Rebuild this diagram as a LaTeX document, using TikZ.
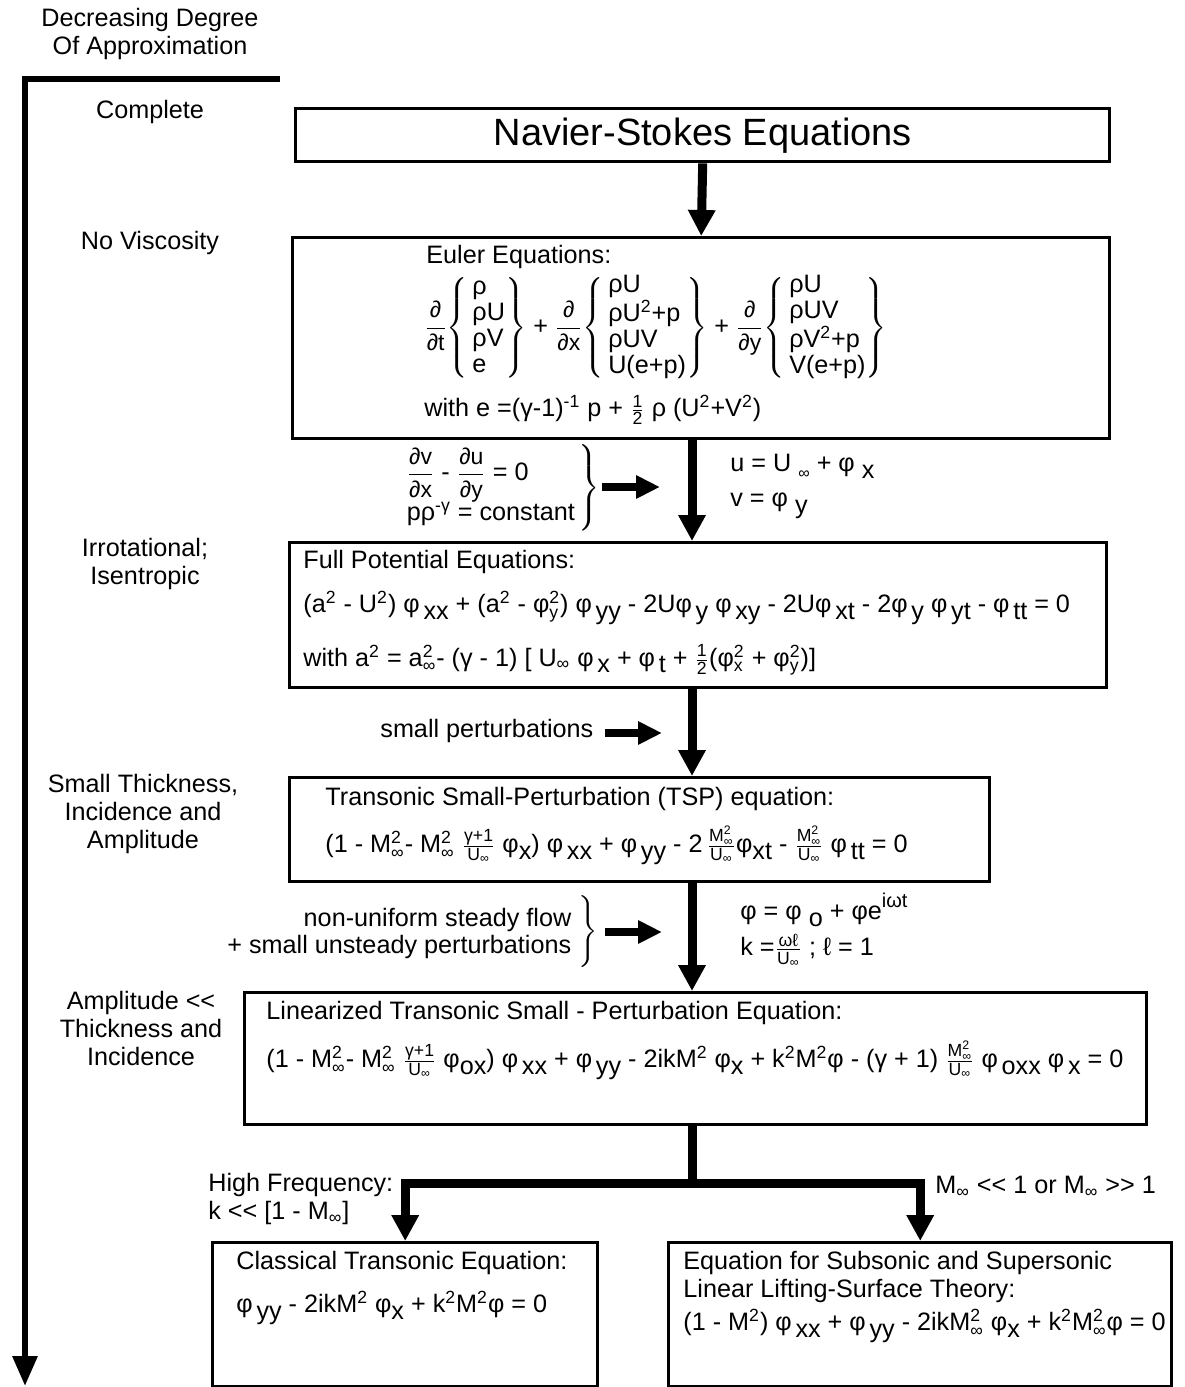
\documentclass[tikz,border=0pt]{standalone}
\usepackage{amsmath}
\usepackage{fontspec}
\setmainfont{Liberation Sans}
\usetikzlibrary{arrows.meta}

\newcommand{\sps}[1]{\ensuremath{^{\text{#1}}}}
\newcommand{\sbs}[1]{\ensuremath{_{\text{#1}}}}
\newcommand{\sbp}[2]{\ensuremath{^{\text{#1}}_{\text{#2}}}}
\newcommand{\dn}[1]{\raisebox{-0.5ex}{#1}}
\newcommand{\lo}[1]{\hspace{0.15em}\dn{#1}}
\newcommand{\sfr}[2]{\ensuremath{\frac{\text{#1}}{\text{#2}}}}
\newcommand{\fracfont}{\fontsize{11.5}{12}\selectfont}
\newcommand{\dfr}[2]{\ensuremath{\dfrac{\text{\fracfont #1}}{\text{\fracfont #2}}}}
\newcommand{\vect}[1]{\ensuremath{\left\{\begin{tabular}{@{\,}l@{}}#1\end{tabular}\right\}}}
\newcommand{\muchless}{<\kern0pt<}
\newcommand{\muchmore}{>\kern0pt>}
\renewcommand{\arraystretch}{0.93}

\begin{document}
\begin{tikzpicture}[x=0.5pt, y=-0.5pt,
        eqbox/.style={draw, line width=1.7pt, anchor=north west, inner sep=0pt},
        lbl/.style={anchor=west, inner sep=0pt, font=\fontsize{12.6}{14}\selectfont},
        level/.style={align=center, inner sep=0pt, font=\fontsize{12.6}{14}\selectfont},
        bigarrow/.style={line width=4.5pt, line join=miter, -{Triangle[width=13pt,length=13pt]}},
        fatarrow/.style={line width=4pt, -{Triangle[width=11pt,length=12pt]}},
        axisline/.style={line width=3pt, line join=miter, -{Triangle[width=12pt,length=15pt]}},
    ]
    \useasboundingbox (0,0) rectangle (1184,1387);

    %% Degree of approximation axis
    \node[level] (degree) at (150,34) {Decreasing Degree\\Of Approximation};
    \coordinate (axtop) at (280,79);
    \coordinate (axcorner) at (25,79);
    \coordinate (axend) at (25,1386);
    \draw[axisline] (axtop) -- (axcorner) -- (axend);

    \node[level] (complete) at (150,112) {Complete};
    \node[level] (novisc) at (150,243) {No Viscosity};
    \node[level] (irrotational) at (145,564) {Irrotational;\\Isentropic};
    \node[level] (smallthick) at (143,814) {Small Thickness,\\Incidence and\\Amplitude};
    \node[level] (amplitude) at (141,1028) {Amplitude \muchless\\Thickness and\\Incidence};

    %% Boxes
    \node[eqbox, minimum width=407pt, minimum height=26.5pt] (ns) at (294,107) {};
    \node[font=\fontsize{19}{21}\selectfont, inner sep=0pt] (nstitle) at (ns.center) {Navier-Stokes Equations};

    \node[eqbox, minimum width=408.5pt, minimum height=100.5pt] (euler) at (291,236) {};
    \node[lbl] (eulertitle) at (426,257) {Euler Equations:};
    \node[lbl] (eulereq) at (424,328) {\dfr{∂}{∂t}\vect{ρ\\ρU\\ρV\\e} + \dfr{∂}{∂x}\vect{ρU\\ρU\sps{2}+p\\ρUV\\U(e+p)} + \dfr{∂}{∂y}\vect{ρU\\ρUV\\ρV\sps{2}+p\\V(e+p)}};
    \node[lbl] (eulerwith) at (424,410) {with e =(γ-1)\sps{-1} p + \sfr{1}{2} ρ (U\sps{2}+V\sps{2})};

    \node[eqbox, minimum width=408.5pt, minimum height=72.5pt] (fp) at (288,541) {};
    \node[lbl] (fptitle) at (303,562) {Full Potential Equations:};
    \node[lbl] (fpeq) at (303,608) {(a\sps{2} - U\sps{2}) φ\lo{xx} + (a\sps{2} - φ\sbp{2}{y}) φ\lo{yy} - 2Uφ\lo{y} φ\lo{xy} - 2Uφ\lo{xt} - 2φ\lo{y} φ\lo{yt} - φ\lo{tt} = 0};
    \node[lbl] (fpwith) at (303,660) {with a\sps{2} = a\sbp{2}{∞}- (γ - 1) [ U\sbs{∞} φ\lo{x} + φ\lo{t} + \sfr{1}{2}(φ\sbp{2}{x} + φ\sbp{2}{y})]};

    \node[eqbox, minimum width=350pt, minimum height=52pt] (tsp) at (288,776) {};
    \node[lbl] (tsptitle) at (325,799) {Transonic Small-Perturbation (TSP) equation:};
    \node[lbl] (tspeq) at (325,845) {(1 - M\sbp{2}{∞}- M\sbp{2}{∞} \sfr{γ+1}{U\sbs{∞}} φ\dn{x}) φ\lo{xx} + φ\lo{yy} - 2\,\sfr{M\sbp{2}{∞}}{U\sbs{∞}}φ\dn{xt} - \sfr{M\sbp{2}{∞}}{U\sbs{∞}} φ\lo{tt} = 0};

    \node[eqbox, minimum width=451pt, minimum height=66pt] (lin) at (243,991) {};
    \node[lbl] (lintitle) at (266,1013) {Linearized Transonic Small - Perturbation Equation:};
    \node[lbl] (lineq) at (266,1060) {(1 - M\sbp{2}{∞}- M\sbp{2}{∞} \sfr{γ+1}{U\sbs{∞}} φ\dn{ox}) φ\lo{xx} + φ\lo{yy} - 2ikM\sps{2} φ\dn{x} + k\sps{2}M\sps{2}φ - (γ + 1) \sfr{M\sbp{2}{∞}}{U\sbs{∞}} φ\lo{oxx} φ\lo{x} = 0};

    \node[eqbox, minimum width=192.5pt, minimum height=72pt] (clas) at (211,1241) {};
    \node[lbl] (clastitle) at (236,1263) {Classical Transonic Equation:};
    \node[lbl] (claseq) at (236,1308) {φ\lo{yy} - 2ikM\sps{2} φ\dn{x} + k\sps{2}M\sps{2}φ = 0};

    \node[eqbox, minimum width=251.5pt, minimum height=72pt] (sub) at (667,1241) {};
    \node[lbl, align=left] (subtitle) at (683,1277) {Equation for Subsonic and Supersonic\\Linear Lifting-Surface Theory:};
    \node[lbl] (subeq) at (683,1326) {(1 - M\sps{2}) φ\lo{xx} + φ\lo{yy} - 2ikM\sbp{2}{∞} φ\dn{x} + k\sps{2}M\sbp{2}{∞}φ = 0};

    %% Main arrows
    \coordinate (spine) at (692,0);
    \coordinate (fork) at (692,1183);
    \draw[bigarrow] (ns.south) -- (euler.north);
    \draw[bigarrow] (euler.south -| spine) -- (fp.north -| spine);
    \draw[bigarrow] (fp.south -| spine) -- (tsp.north -| spine);
    \draw[bigarrow] (tsp.south -| spine) -- (lin.north -| spine);
    \draw[bigarrow, -] (lin.south -| spine) -- (fork);
    \draw[bigarrow] (fork) -| (clas.north);
    \draw[bigarrow] (fork) -| (sub.north);

    %% Side conditions
    \node[lbl] (irrot) at (404,488) {$\left.\begin{tabular}{@{}l@{}}\dfr{∂v}{∂x} - \dfr{∂u}{∂y} = 0\\ pρ\sps{-γ} = constant\end{tabular}\,\right\}$};
    \coordinate (irrotA) at (602,487);
    \coordinate (irrotB) at (660,487);
    \draw[fatarrow] (irrotA) -- (irrotB);
    \node[lbl] (uvel) at (730,466) {u = U \dn{\footnotesize ∞} + φ \dn{x}};
    \node[lbl] (vvel) at (730,506) {v = φ \dn{y}};

    \node[lbl] (smallpert) at (380,731) {small perturbations};
    \coordinate (pertA) at (605,733);
    \coordinate (pertB) at (662,733);
    \draw[fatarrow] (pertA) -- (pertB);

    \node[lbl, anchor=east] (unsteady) at (598,932) {$\left.\begin{tabular}{@{}r@{}}\rule{0pt}{16pt}non-uniform steady flow\\+ small unsteady perturbations\rule[-8pt]{0pt}{8pt}\end{tabular}\ \right\}$};
    \coordinate (unsteadyA) at (605,932);
    \coordinate (unsteadyB) at (662,932);
    \draw[fatarrow] (unsteadyA) -- (unsteadyB);
    \node[lbl] (phidef) at (740,910) {φ = φ \dn{o} + φe\raisebox{0.9ex}{\fontsize{10}{10}\selectfont iωt}};
    \node[lbl] (kdef) at (740,950) {k =\sfr{ωℓ}{U\sbs{∞}} ; ℓ = 1};

    \node[lbl, align=left] (highfreq) at (208,1199) {High Frequency:\\k \muchless{} [1 - M\sbs{∞}]};
    \node[lbl] (machlim) at (935,1187) {M\sbs{∞} \muchless{} 1 or M\sbs{∞} \muchmore{} 1};

\end{tikzpicture}
\end{document}
